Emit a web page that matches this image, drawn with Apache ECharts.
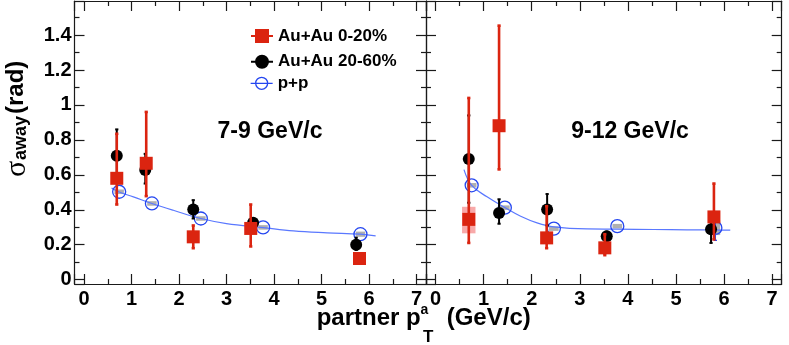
<!DOCTYPE html>
<html>
<head>
<meta charset="utf-8">
<script src="https://cdn.jsdelivr.net/npm/echarts@6.0.0/dist/echarts.min.js"></script>
<style>
html, body { margin: 0; padding: 0; background: #fff; }
#chart { width: 789px; height: 345px; }
</style>
</head>
<body>
<div id="chart"></div>
<script>
// Panel 1: 7-9 GeV/c
const auCentX79 = [0.69, 1.31, 2.30, 3.51, 5.80];
const auCentY79 = [0.58, 0.666, 0.245, 0.293, 0.121];
const auCentLo79 = [0.43, 0.478, 0.18, 0.19, 0.105];
const auCentHi79 = [0.835, 0.96, 0.31, 0.43, 0.135];
const auPeriX79 = [0.69, 1.29, 2.30, 3.56, 5.73];
const auPeriY79 = [0.709, 0.627, 0.402, 0.325, 0.20];
const auPeriLo79 = [0.56, 0.55, 0.35, 0.30, 0.17];
const auPeriHi79 = [0.86, 0.72, 0.455, 0.35, 0.24];
const ppX79 = [0.74, 1.43, 2.46, 3.77, 5.82];
const ppY79 = [0.503, 0.436, 0.35, 0.299, 0.26];
const ppSysLo79 = [0.49, 0.423, 0.337, 0.286, 0.245];
const ppSysHi79 = [0.516, 0.449, 0.363, 0.312, 0.275];
const fitX79 = [0.58, 0.74, 1.04, 1.43, 1.88, 2.46, 3.0, 3.77, 4.41, 5.12, 5.82, 6.14];
const fitY79 = [0.525, 0.502, 0.474, 0.436, 0.397, 0.35, 0.321, 0.298, 0.279, 0.268, 0.26, 0.25];

// Panel 2: 9-12 GeV/c
const auCentX912 = [0.69, 1.32, 2.31, 3.52, 5.79];
const auCentY912 = [0.345, 0.881, 0.239, 0.182, 0.359];
const auCentLo912 = [0.21, 0.631, 0.18, 0.14, 0.23];
const auCentHi912 = [1.04, 1.454, 0.42, 0.26, 0.55];
const auCentSysX912 = [0.69];
const auCentSysLo912 = [0.265];
const auCentSysHi912 = [0.417];
const auPeriX912 = [0.69, 1.32, 2.32, 3.56, 5.73];
const auPeriY912 = [0.69, 0.382, 0.401, 0.249, 0.289];
const auPeriLo912 = [0.44, 0.32, 0.31, 0.225, 0.21];
const auPeriHi912 = [0.94, 0.46, 0.49, 0.275, 0.37];
const ppX912 = [0.75, 1.44, 2.46, 3.78, 5.82];
const ppY912 = [0.54, 0.412, 0.292, 0.306, 0.296];
const ppSysLo912 = [0.527, 0.399, 0.279, 0.293, 0.255];
const ppSysHi912 = [0.553, 0.425, 0.305, 0.319, 0.34];
const ppErrX912 = [5.82];
const ppErrLo912 = [0.225];
const ppErrHi912 = [0.33];
const fitX912 = [0.59, 0.75, 1.07, 1.44, 1.77, 2.11, 2.46, 3.15, 3.78, 4.54, 5.23, 5.82, 6.13];
const fitY912 = [0.63, 0.54, 0.474, 0.413, 0.363, 0.325, 0.302, 0.29, 0.289, 0.287, 0.285, 0.284, 0.283];

const xTicks = ['0', '1', '2', '3', '4', '5', '6', '7'];
const yTicks = ['0', '0.2', '0.4', '0.6', '0.8', '1', '1.2', '1.4'];

const FONT = '"Liberation Sans", Arial, sans-serif';
const RED = '#db2410';
const BLUE = '#2446f0';
const FIT = '#5a78ff';
const CAP = 1.6;

const zip = (xs, ys) => xs.map((x, i) => [x, ys[i]]);

function errBars(xs, los, his, color, width, gi, z) {
    return {
        type: 'custom', xAxisIndex: gi, yAxisIndex: gi, z: z, silent: true,
        data: xs.map((x, i) => [x, los[i], his[i]]),
        encode: { x: 0, y: [1, 2] },
        renderItem: function (params, api) {
            const a = api.coord([api.value(0), api.value(1)]);
            const b = api.coord([api.value(0), api.value(2)]);
            const st = { stroke: color, lineWidth: width };
            return {
                type: 'group', children: [
                    { type: 'line', shape: { x1: a[0], y1: a[1], x2: b[0], y2: b[1] }, style: st },
                    { type: 'line', shape: { x1: a[0] - CAP, y1: a[1], x2: a[0] + CAP, y2: a[1] }, style: st },
                    { type: 'line', shape: { x1: b[0] - CAP, y1: b[1], x2: b[0] + CAP, y2: b[1] }, style: st }
                ]
            };
        }
    };
}

function sysBoxes(xs, los, his, color, halfW, gi, z) {
    return {
        type: 'custom', xAxisIndex: gi, yAxisIndex: gi, z: z, silent: true,
        data: xs.map((x, i) => [x, los[i], his[i]]),
        encode: { x: 0, y: [1, 2] },
        renderItem: function (params, api) {
            const p1 = api.coord([api.value(0) - halfW, api.value(2)]);
            const p2 = api.coord([api.value(0) + halfW, api.value(1)]);
            return {
                type: 'rect',
                shape: { x: p1[0], y: p1[1], width: p2[0] - p1[0], height: p2[1] - p1[1] },
                style: { fill: color }
            };
        }
    };
}

function panelSeries(gi, d) {
    return [
        sysBoxes(d.ppX, d.ppSysLo, d.ppSysHi, '#b0b0b0', 0.1, gi, 1),
        { type: 'line', xAxisIndex: gi, yAxisIndex: gi, z: 2, silent: true, smooth: 0.4,
          showSymbol: false, data: zip(d.fitX, d.fitY), lineStyle: { color: FIT, width: 1.2 } },
        { type: 'scatter', name: 'p+p', xAxisIndex: gi, yAxisIndex: gi, z: 3,
          symbol: 'circle', symbolSize: 13, data: zip(d.ppX, d.ppY),
          itemStyle: { color: 'rgba(0,0,0,0)', borderColor: BLUE, borderWidth: 1.3, opacity: 1 } },
        errBars(d.periX, d.periLo, d.periHi, '#000', 2, gi, 4),
        { type: 'scatter', name: 'Au+Au 20-60%', xAxisIndex: gi, yAxisIndex: gi, z: 5,
          symbol: 'circle', symbolSize: 12, data: zip(d.periX, d.periY),
          itemStyle: { color: '#000', opacity: 1 } },
        errBars(d.centX, d.centLo, d.centHi, RED, 2.6, gi, 6),
        { type: 'scatter', name: 'Au+Au 0-20%', xAxisIndex: gi, yAxisIndex: gi, z: 7,
          symbol: 'rect', symbolSize: 13, data: zip(d.centX, d.centY),
          itemStyle: { color: RED, opacity: 1 } }
    ];
}

const xLabelFmt = v => {
    const r = Math.round(v);
    return Math.abs(v - r) < 1e-6 && r >= 0 && r < xTicks.length ? xTicks[r] : '';
};
const yLabelFmt = v => {
    const r = Math.round(v * 5);
    return Math.abs(v * 5 - r) < 1e-6 && r >= 0 && r < yTicks.length ? yTicks[r] : '';
};

function xAxis(gi, pos, labels) {
    return {
        type: 'value', gridIndex: gi, position: pos, min: -0.2, max: 7.2, splitNumber: 7,
        axisLine: { show: true, onZero: false, lineStyle: { color: '#1a1a1a', width: 1.2 } },
        axisTick: { show: true, inside: true, length: 10, lineStyle: { color: '#1a1a1a', width: 1.2 } },
        minorTick: { show: true, splitNumber: 2, length: 5, lineStyle: { color: '#1a1a1a', width: 1.2 } },
        splitLine: { show: false },
        axisLabel: { show: labels, formatter: xLabelFmt, margin: 5, color: '#000',
                     fontFamily: FONT, fontWeight: 'bold', fontSize: 20, hideOverlap: false }
    };
}

function yAxis(gi, pos, labels) {
    return {
        type: 'value', gridIndex: gi, position: pos, min: -0.025, max: 1.595, splitNumber: 8,
        axisLine: { show: true, onZero: false, lineStyle: { color: '#1a1a1a', width: 1.2 } },
        axisTick: { show: true, inside: true, length: 10, lineStyle: { color: '#1a1a1a', width: 1.2 } },
        minorTick: { show: true, splitNumber: 2, length: 5, lineStyle: { color: '#1a1a1a', width: 1.2 } },
        splitLine: { show: false },
        axisLabel: { show: labels, formatter: yLabelFmt, margin: 3, color: '#000',
                     fontFamily: FONT, fontWeight: 'bold', fontSize: 20, hideOverlap: false }
    };
}

function legendItem(name, top, icon, style) {
    return {
        left: 250, top: top, padding: 0, itemWidth: 22, itemHeight: 12, orient: 'vertical',
        selectedMode: false,
        data: [{ name: name, icon: icon, itemStyle: style }],
        textStyle: { fontFamily: FONT, fontWeight: 'bold', fontSize: 17, color: '#000' }
    };
}

const circleIcon = 'path://M0,6H22M17,6A6,6,0,1,1,5,6A6,6,0,1,1,17,6Z';

const chart = echarts.init(document.getElementById('chart'), null, { renderer: 'canvas' });

const option = {
    backgroundColor: '#fff',
    animation: false,
    grid: [
        { left: 74.5, top: 1, width: 351.5, height: 283 },
        { left: 426, top: 1, width: 355.7, height: 283 }
    ],
    xAxis: [xAxis(0, 'bottom', true), xAxis(1, 'bottom', true), xAxis(0, 'top', false), xAxis(1, 'top', false)],
    yAxis: [yAxis(0, 'left', true), yAxis(1, 'left', false), yAxis(0, 'right', false), yAxis(1, 'right', false)],
    legend: [
        legendItem('Au+Au 0-20%', 27.5, 'path://M0,6H22M5,0H17V12H5Z',
                   { color: RED, borderColor: RED, borderWidth: 2 }),
        legendItem('Au+Au 20-60%', 53.2, circleIcon,
                   { color: '#000', borderColor: '#000', borderWidth: 2 }),
        legendItem('p+p', 74.8, circleIcon,
                   { color: 'rgba(0,0,0,0)', borderColor: BLUE, borderWidth: 1.3 })
    ],
    graphic: [
        { type: 'text', x: 270, y: 131.3, style: { text: '7-9 GeV/c', align: 'center', verticalAlign: 'middle',
          font: 'bold 23px ' + FONT, fill: '#000' } },
        { type: 'text', x: 630, y: 132, style: { text: '9-12 GeV/c', align: 'center', verticalAlign: 'middle',
          font: 'bold 23px ' + FONT, fill: '#000' } },
        // x axis title
        { type: 'text', x: 316.7, y: 318.4, style: { text: 'partner p', align: 'left', verticalAlign: 'middle',
          font: 'bold 24px ' + FONT, fill: '#000' } },
        { type: 'text', x: 420.5, y: 310, style: { text: 'a', align: 'left', verticalAlign: 'middle',
          font: 'bold 14px ' + FONT, fill: '#000' } },
        { type: 'text', x: 423, y: 337, style: { text: 'T', align: 'left', verticalAlign: 'middle',
          font: 'bold 17px ' + FONT, fill: '#000' } },
        { type: 'text', x: 446.7, y: 318.4, style: { text: '(GeV/c)', align: 'left', verticalAlign: 'middle',
          font: 'bold 24px ' + FONT, fill: '#000' } },
        // y axis title (rotated)
        { type: 'text', x: 17.4, y: 177, rotation: Math.PI / 2, style: { text: 'σ', align: 'left', verticalAlign: 'middle',
          font: '30px "Liberation Serif", "DejaVu Serif", serif', fill: '#000' } },
        { type: 'text', x: 20.8, y: 160, rotation: Math.PI / 2, style: { text: 'away', align: 'left', verticalAlign: 'middle',
          font: 'bold 18px ' + FONT, fill: '#000' } },
        { type: 'text', x: 16.5, y: 114, rotation: Math.PI / 2, style: { text: '(rad)', align: 'left', verticalAlign: 'middle',
          font: 'bold 24px ' + FONT, fill: '#000' } }
    ],
    series: [
        ...panelSeries(0, {
            ppX: ppX79, ppY: ppY79, ppSysLo: ppSysLo79, ppSysHi: ppSysHi79,
            fitX: fitX79, fitY: fitY79,
            periX: auPeriX79, periY: auPeriY79, periLo: auPeriLo79, periHi: auPeriHi79,
            centX: auCentX79, centY: auCentY79, centLo: auCentLo79, centHi: auCentHi79
        }),
        errBars(ppErrX912, ppErrLo912, ppErrHi912, BLUE, 1.3, 1, 2.5),
        sysBoxes(auCentSysX912, auCentSysLo912, auCentSysHi912, 'rgba(245,140,140,0.75)', 0.14, 1, 5.5),
        ...panelSeries(1, {
            ppX: ppX912, ppY: ppY912, ppSysLo: ppSysLo912, ppSysHi: ppSysHi912,
            fitX: fitX912, fitY: fitY912,
            periX: auPeriX912, periY: auPeriY912, periLo: auPeriLo912, periHi: auPeriHi912,
            centX: auCentX912, centY: auCentY912, centLo: auCentLo912, centHi: auCentHi912
        })
    ]
};

chart.setOption(option);
</script>
</body>
</html>
